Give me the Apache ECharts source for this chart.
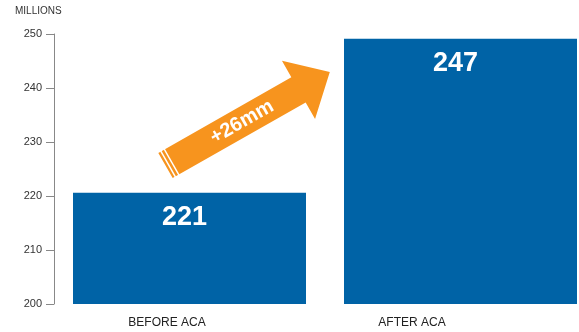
<!DOCTYPE html>
<html>
<head>
<meta charset="utf-8">
<script src="https://cdn.jsdelivr.net/npm/echarts@6/dist/echarts.min.js"></script>
<style>
  html, body { margin: 0; padding: 0; background: #fff; }
  #chart { width: 579px; height: 332px; }
</style>
</head>
<body>
<div id="chart"></div>
<script>
// 数据
var categories = ['BEFORE ACA', 'AFTER ACA']
var barValues = [220.6, 249.1]   // bar heights as drawn
var barLabels = ['221', '247']   // printed on the bars
var changeLabel = '+26mm'
var yTicks = [200, 250, 10]      // min, max, interval

var FONT = "'Liberation Sans', Arial, sans-serif"
var blue = '#0063a6'
var orange = '#f7941e'

var myChart = echarts.init(document.getElementById('chart'))

var option = {
  animation: false,
  title: {
    text: 'MILLIONS',
    left: 15,
    top: 6,
    padding: 0,
    textStyle: { fontFamily: FONT, fontSize: 10, fontWeight: 'normal', color: '#333' }
  },
  grid: { left: 54, top: 34, width: 542, height: 270, containLabel: false, outerBoundsMode: 'none' },
  xAxis: {
    type: 'category',
    data: categories,
    axisLine: { show: false },
    axisTick: { show: false },
    axisLabel: {
      margin: 13,
      fontFamily: FONT,
      fontSize: 12,
      color: '#222',
      // 标签相对柱子偏左
      formatter: function (v, i) {
        return i === 0 ? '{a|' + v + '}' : '{b|' + v + '}'
      },
      rich: {
        a: { fontFamily: FONT, fontSize: 12, color: '#222', padding: [0, 45, 0, 0] },
        b: { fontFamily: FONT, fontSize: 12, color: '#222', padding: [0, 97, 0, 0] }
      }
    }
  },
  yAxis: {
    type: 'value',
    min: yTicks[0],
    max: yTicks[1],
    interval: yTicks[2],
    axisLine: { show: true, lineStyle: { color: '#888', width: 1 } },
    axisTick: { show: true, length: 8, lineStyle: { color: '#888' } },
    splitLine: { show: false },
    axisLabel: { margin: 12, fontFamily: FONT, fontSize: 11, color: '#333' }
  },
  series: [
    {
      type: 'bar',
      barWidth: 233,
      itemStyle: { color: blue },
      label: {
        show: true,
        position: 'insideTop',
        distance: 11,
        offset: [-5, 0],
        fontFamily: FONT,
        fontSize: 27,
        fontWeight: 'bold',
        color: '#fff',
        formatter: function (p) {
          return barLabels[p.dataIndex]
        }
      },
      data: barValues
    }
  ],
  graphic: [
    {
      type: 'group',
      x: 165.5,
      y: 165.5,
      rotation: 0.517,
      children: [
        {
          type: 'polygon',
          shape: {
            points: [[0, -14.5], [153, -14.5], [153, -33.5], [189, 0], [153, 33.5], [153, 14.5], [0, 14.5]]
          },
          style: { fill: orange }
        },
        { type: 'line', shape: { x1: 3, y1: -15, x2: 3, y2: 15 }, style: { stroke: '#fff', lineWidth: 1.5 } },
        { type: 'line', shape: { x1: 7, y1: -15, x2: 7, y2: 15 }, style: { stroke: '#fff', lineWidth: 1.5 } },
        {
          type: 'text',
          x: 88,
          y: 0,
          style: {
            text: changeLabel,
            fill: '#fff',
            font: 'bold 20px ' + FONT,
            align: 'center',
            verticalAlign: 'middle'
          }
        }
      ]
    }
  ]
}

myChart.setOption(option)
</script>
</body>
</html>
